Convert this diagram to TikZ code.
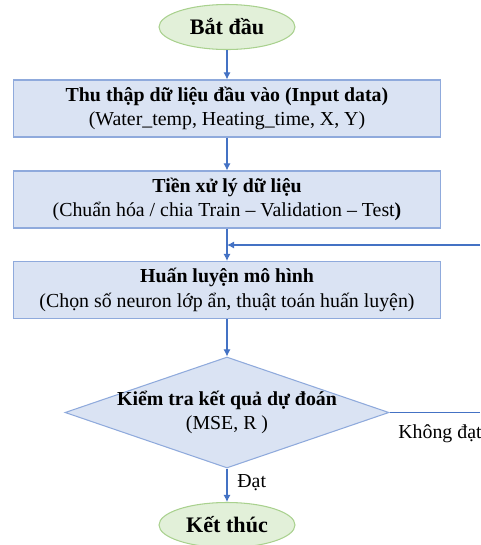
\documentclass[tikz,border=0pt]{standalone}
\usepackage{fontspec}
\setmainfont{Liberation Serif}
\usetikzlibrary{shapes.geometric,arrows.meta,positioning}
\definecolor{boxfill}{HTML}{DAE3F3}
\definecolor{boxline}{HTML}{8FAADC}
\definecolor{endfill}{HTML}{E2F0D9}
\definecolor{endline}{HTML}{A9D18E}
\definecolor{flow}{HTML}{4472C4}
\tikzset{
  terminal/.style={ellipse, draw=endline, fill=endfill, line width=0.6pt, minimum width=2.72cm, minimum height=0.9cm, font=\fontsize{12.6}{15}\selectfont\bfseries},
  process/.style={rectangle, draw=boxline, fill=boxfill, line width=0.6pt, minimum width=8.54cm, minimum height=1.14cm, align=center},
  decision/.style={diamond, draw=boxline, fill=boxfill, line width=0.6pt, minimum width=6.48cm, minimum height=2.22cm, inner sep=0pt},
  flowline/.style={draw=flow, line width=0.6pt, -{Latex[length=4pt,width=4pt]}},
  loopline/.style={draw=flow, line width=0.6pt}
}
\begin{document}
\begin{tikzpicture}[font=\fontsize{11.3}{14}\selectfont]
  \useasboundingbox (0,0) rectangle (9.6,-10.9);
  \node [terminal] (start) at (4.54,-0.54) {Bắt đầu};
  \node [process] (input) at (4.54,-2.17) {\textbf{Thu thập dữ liệu đầu vào (Input data)}\\(Water\_temp, Heating\_time, X, Y)};
  \node [process] (prep) at (4.54,-3.99) {\textbf{Tiền xử lý dữ liệu}\\(Chuẩn hóa / chia Train -- Validation -- Test\textbf{)}};
  \node [process] (train) at (4.54,-5.8) {\textbf{Huấn luyện mô hình}\\(Chọn số neuron lớp ẩn, thuật toán huấn luyện)};
  \node [decision] (check) at (4.54,-8.25) {};
  \node [align=center] (checktext) at (check) {\textbf{Kiểm tra kết quả dự đoán}\\(MSE, R )};
  \node [terminal] (stop) at (4.54,-10.5) {Kết thúc};
  \coordinate (back) at (9.6,-4.9);
  \coordinate (join) at (4.54,-4.9);
  \coordinate (fail) at (9.6,-8.25);
  \draw [flowline] (start) -- (input);
  \draw [flowline] (input) -- (prep);
  \draw [flowline] (prep) -- (train);
  \draw [flowline] (back) -- (join);
  \draw [flowline] (train) -- (check);
  \draw [flowline] (check) -- (stop);
  \draw [loopline] (check.east) -- (fail);
  \node [anchor=west, inner sep=0pt] (faillabel) at (7.96,-8.68) {Không đạt};
  \node [anchor=west, inner sep=0pt] (passlabel) at (4.74,-9.66) {Đạt};
\end{tikzpicture}
\end{document}
